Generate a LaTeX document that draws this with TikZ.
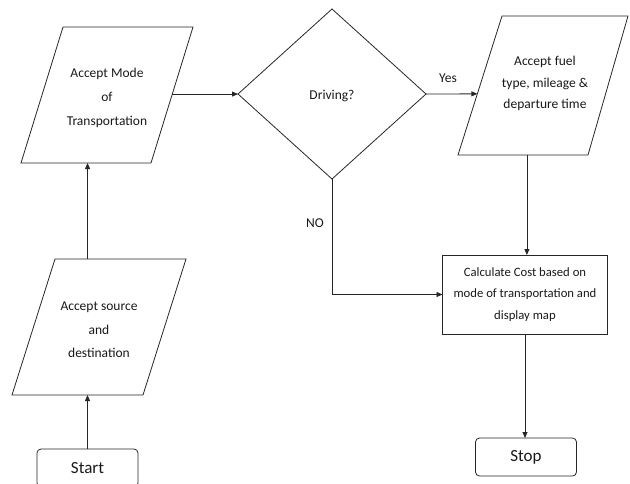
\documentclass[tikz,border=0pt]{standalone}
\usepackage{fontspec}
\setmainfont{Carlito}
\usetikzlibrary{shapes.geometric,arrows.meta,calc}
\begin{document}
\begin{tikzpicture}[x=1pt,y=-1pt,
  every node/.style={text=black!90, outer sep=0pt},
  txt/.style={font=\fontsize{13.5}{24}\selectfont, align=center},
  shapeline/.style={draw=black!85, line width=0.8pt, line join=miter},
  proc/.style={rectangle, shapeline, align=center,
    font=\fontsize{12.7}{21.5}\selectfont},
  term/.style={rectangle, rounded corners=4pt, shapeline,
    minimum width=101pt, minimum height=38pt, font=\fontsize{17}{20}\selectfont},
  dec/.style={diamond, shapeline, txt, aspect=1.1,
    minimum width=188pt, minimum height=170pt, inner sep=0pt},
  conn/.style={draw=black!85, line width=0.8pt, -{Triangle[length=6pt,width=5pt]}},
  lbl/.style={font=\fontsize{13.5}{16}\selectfont}
]
\useasboundingbox (0,0) rectangle (630,483);
% parallelogram corners
\coordinate (a1) at (63,27);  \coordinate (b1) at (193,27);
\coordinate (c1) at (151,163); \coordinate (d1) at (21,163);
\coordinate (a2) at (55,259); \coordinate (b2) at (186,259);
\coordinate (c2) at (143,395); \coordinate (d2) at (12,395);
\coordinate (a3) at (502,16); \coordinate (b3) at (628,16);
\coordinate (c3) at (588,155); \coordinate (d3) at (458,155);
\draw[shapeline] (a1) -- (b1) -- (c1) -- (d1) -- cycle;
\draw[shapeline] (a2) -- (b2) -- (c2) -- (d2) -- cycle;
\draw[shapeline] (a3) -- (b3) -- (c3) -- (d3) -- cycle;
\node[txt] (p1) at (107,97.5) {Accept Mode\\of\\Transportation};
\node[txt, font=\fontsize{13.5}{23.5}\selectfont] (p2) at (99,330)
  {Accept source\\and\\destination};
\node[txt, font=\fontsize{13.5}{21.5}\selectfont] (p3) at (545,83.5)
  {Accept fuel\\type, mileage \&\\departure time};
\node[dec] (dia) at (332,94) {\raisebox{-13pt}{Driving?}};
\node[proc, minimum width=165pt, minimum height=79pt] (calc) at (525,294.5)
  {Calculate Cost based on\\mode of transportation and\\display map};
\node[term] (start) at (87.5,468) {Start};
\node[term] (stop) at (526,457) {Stop};
\node[lbl] (yes) at (448,78) {Yes};
\node[lbl] (no) at (315,223) {NO};
\coordinate (p1bot) at ($(d1)!0.512!(c1)$);
\coordinate (p1out) at ($(c1)!0.507!(b1)$);
\coordinate (p3in) at ($(d3)!0.44!(a3)$);
\coordinate (p3bot) at ($(d3)!0.53!(c3)$);
\draw[conn] (start.north) -- (start.north |- d2);
\draw[conn] (p1bot |- a2) -- (p1bot);
\draw[conn] (p1out) -- (p1out -| dia.west);
\draw[conn] (dia.east) -- (p3in);
\draw[conn] (p3bot) -- (p3bot |- calc.north);
\draw[conn] (dia.south) |- (calc.west);
\draw[conn] (calc.south) -- (calc.south |- stop.north);
\end{tikzpicture}
\end{document}
